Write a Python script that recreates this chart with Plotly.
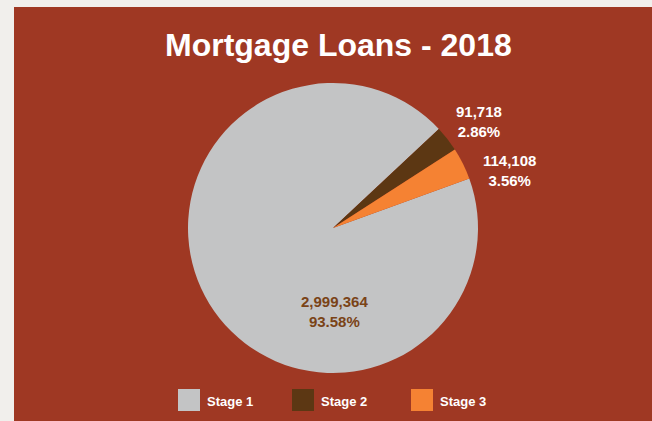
import plotly.graph_objects as go

# ---- data ----
categories = ["Stage 1", "Stage 2", "Stage 3"]
values = [2999364, 91718, 114108]
percent_labels = ["93.58%", "2.86%", "3.56%"]
colors = ["#C3C4C5", "#5C3713", "#F58233"]
title_text = "Mortgage Loans - 2018"

W, H = 652, 421
BG = "#9F3823"
FRAME = "#F1EFEC"

def px(x):
    return x / W

def py(y):
    return 1 - y / H

# pie geometry (pixels)
cx, cy, r = 333, 228, 145

fig = go.Figure()
fig.add_trace(go.Pie(
    labels=categories,
    values=values,
    marker=dict(colors=colors, line=dict(width=0)),
    sort=False,
    direction="clockwise",
    rotation=70,
    textinfo="none",
    hoverinfo="label+value+percent",
    showlegend=False,
    domain=dict(x=[px(cx - r), px(cx + r)], y=[py(cy + r), py(cy - r)]),
))

shapes = [
    dict(type="rect", xref="paper", yref="paper",
         x0=px(14), x1=1.0, y0=0, y1=py(7),
         fillcolor=BG, line=dict(width=0), layer="below"),
]
annotations = [
    dict(text=f"<b>{title_text}</b>", x=px(338), y=py(45), xref="paper", yref="paper",
         showarrow=False, font=dict(family="Liberation Sans, Arial", size=32, color="white"),
         xanchor="center", yanchor="middle"),
]

# slice value labels
label_pos = [(334, 311), (479, 121), (509, 170)]
label_colors = ["#7A4317", "white", "white"]
for v, p, (lx, ly), c in zip(values, percent_labels, label_pos, label_colors):
    annotations.append(dict(
        text=f"<b>{v:,}<br>{p}</b>", x=px(lx), y=py(ly), xref="paper", yref="paper",
        showarrow=False, align="center",
        font=dict(family="Liberation Sans, Arial", size=15, color=c),
        xanchor="center", yanchor="middle"))

# custom legend
legend_x = [178, 292, 411]
leg_y = 400
for cat, col, lx in zip(categories, colors, legend_x):
    shapes.append(dict(type="rect", xref="paper", yref="paper",
                       x0=px(lx), x1=px(lx + 22), y0=py(leg_y + 11), y1=py(leg_y - 11),
                       fillcolor=col, line=dict(width=0)))
    annotations.append(dict(text=f"<b>{cat}</b>", x=px(lx + 27), y=py(leg_y + 1),
                            xref="paper", yref="paper", showarrow=False,
                            xanchor="left", yanchor="middle",
                            font=dict(family="Liberation Sans, Arial", size=13, color="white")))

fig.update_layout(
    width=W, height=H,
    margin=dict(l=0, r=0, t=0, b=0),
    paper_bgcolor=FRAME,
    plot_bgcolor=FRAME,
    shapes=shapes,
    annotations=annotations,
)

fig.write_html("out.html", config={"displayModeBar": False},
               post_script="document.body.style.margin='0';document.body.style.overflow='hidden';")
